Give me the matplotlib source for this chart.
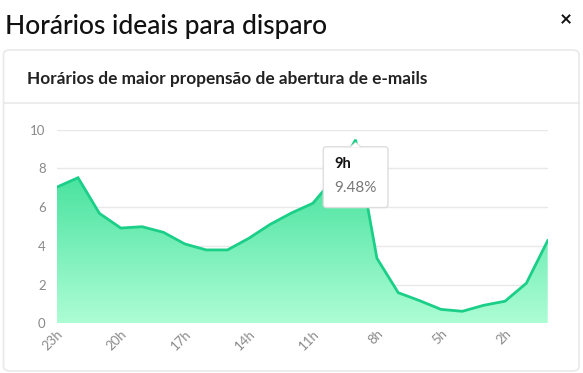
import numpy as np
import matplotlib
matplotlib.use("Agg")
import matplotlib.pyplot as plt
from matplotlib.patches import FancyBboxPatch, Polygon
from matplotlib.colors import LinearSegmentedColormap
from matplotlib.lines import Line2D

# hours shown from 23h down to 0h, open rate share (%)
hours = ['23h', '22h', '21h', '20h', '19h', '18h', '17h', '16h', '15h', '14h', '13h', '12h',
         '11h', '10h', '9h', '8h', '7h', '6h', '5h', '4h', '3h', '2h', '1h', '0h']
pct = [7.03, 7.52, 5.68, 4.92, 4.99, 4.70, 4.10, 3.79, 3.79, 4.39, 5.11, 5.70,
       6.20, 7.50, 9.48, 3.36, 1.58, 1.17, 0.72, 0.62, 0.93, 1.14, 2.07, 4.27]
yticks = [0, 2, 4, 6, 8, 10]

plt.rcParams['font.family'] = ['Lato', 'DejaVu Sans']

W, H = 583, 373
fig = plt.figure(figsize=(W / 100, H / 100), dpi=100)
fig.patch.set_facecolor('white')

# card around the chart
card = FancyBboxPatch((3.5 / W, 2 / H), 575.5 / W, 321 / H,
                      boxstyle="round,pad=0,rounding_size=0.012",
                      transform=fig.transFigure, facecolor='white',
                      edgecolor='#e9e9e9', lw=1.2, zorder=-2)
fig.patches.append(card)
fig.lines.append(Line2D([3.5 / W, 579 / W], [1 - 103 / H, 1 - 103 / H],
                        transform=fig.transFigure, color='#e9e9e9', lw=1.2,
                        zorder=-1))

fig.text(5 / W, 1 - 34 / H, 'Horários ideais para disparo', fontsize=19,
         fontweight='medium', color='#111111', va='baseline', ha='left')
fig.text(566 / W, 1 - 20 / H, '×', fontsize=15, fontweight='bold',
         color='#111111', va='center', ha='center')
fig.text(27 / W, 1 - 84.3 / H, 'Horários de maior propensão de abertura de e-mails',
         fontsize=12.4, fontweight='bold', color='#222222', va='baseline', ha='left')

ax = fig.add_axes([56.7 / W, 49.7 / H, 491 / W, 193.6 / H])
ax.patch.set_alpha(0)
x = np.arange(len(hours))
y = np.array(pct)

ax.set_xlim(0, len(hours) - 1)
ax.set_ylim(0, 10)
for s in ax.spines.values():
    s.set_visible(False)
for t in yticks:
    ax.axhline(t, color='#e8e8e8', lw=1, zorder=0)

# gradient fill
poly = ax.fill_between(x, y, 0, color='none', zorder=1)
cmap = LinearSegmentedColormap.from_list('g', ['#adfdd4', '#30dc92'])
grad = np.linspace(0, 1, 256).reshape(-1, 1)
img = ax.imshow(grad, cmap=cmap, aspect='auto', origin='lower',
                extent=[0, len(hours) - 1, 0, y.max()], zorder=1)
img.set_clip_path(poly.get_paths()[0], transform=ax.transData)
ax.plot(x, y, color='#1bcf88', lw=2.0, zorder=2, solid_joinstyle='miter')

ax.set_yticks(yticks)
ax.set_yticklabels([str(t) for t in yticks])
ax.set_xticks(x[::3])
ax.set_xticklabels(hours[::3], rotation=45, ha='right', va='top',
                   rotation_mode='anchor')
ax.tick_params(length=0, colors='#8a8a8a', labelsize=9.5)
ax.tick_params(axis='y', pad=8)
ax.tick_params(axis='x', pad=3)

# tooltip on the peak
i = int(np.argmax(y))
px, py = ax.transData.transform((x[i], y[i]))
box = FancyBboxPatch((px - 32.3, py - 67.8), 64.7, 60.8,
                     boxstyle="round,pad=0,rounding_size=3",
                     transform=None, facecolor='white', edgecolor='#dddddd',
                     lw=1, zorder=5)
fig.patches.append(box)
tri = Polygon([[px - 5, py - 7.6], [px + 5, py - 7.6], [px, py - 3]],
              closed=True, transform=None, facecolor='white',
              edgecolor='none', zorder=6)
fig.patches.append(tri)
fig.lines.append(Line2D([px - 5, px, px + 5], [py - 7, py - 3, py - 7],
                        transform=None, color='#dddddd', lw=1, zorder=6))
fig.text((px - 21.5) / W, (py - 24) / H, hours[i], transform=fig.transFigure,
         fontsize=10.5, fontweight='bold', color='#111111', va='center',
         ha='left', zorder=7)
fig.text((px - 21.5) / W, (py - 48.6) / H, f'{pct[i]:.2f}%',
         transform=fig.transFigure, fontsize=11, color='#777777',
         va='center', ha='left', zorder=7)

fig.savefig('out.png', dpi=100)
